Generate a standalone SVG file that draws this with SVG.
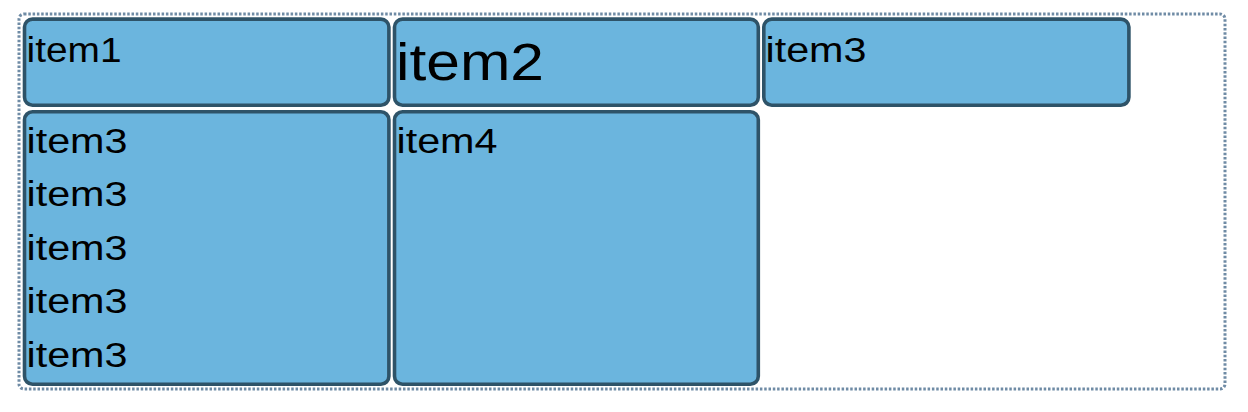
<svg xmlns="http://www.w3.org/2000/svg" width="1248" height="412" viewBox="0 0 1248 412">
<style>
.box{fill:#6bb5de;stroke:#2e5368;stroke-width:3.6}
.t{font-family:"Liberation Sans",Arial,sans-serif;font-size:34.5px;fill:#000}
.big{font-size:51px}
.outer{fill:none;stroke:#6f8ba5;stroke-width:3;stroke-dasharray:2.5 1.8}
</style>
<rect width="1248" height="412" fill="#fff"/>
<rect class="outer" x="19" y="14" width="1206" height="375" rx="5"/>
<g id="item1">
<rect class="box" x="24.5" y="19.1" width="364.4" height="86.1" rx="8"/>
<text class="t" x="26.5" y="62.3" textLength="95" lengthAdjust="spacingAndGlyphs">item1</text>
</g>
<g id="item2">
<rect class="box" x="394.5" y="19.1" width="363.8" height="86.1" rx="8"/>
<text class="t big" x="396" y="80" textLength="148" lengthAdjust="spacingAndGlyphs">item2</text>
</g>
<g id="item3a">
<rect class="box" x="763.8" y="19.1" width="365.1" height="86.1" rx="8"/>
<text class="t" x="765.5" y="62" textLength="101" lengthAdjust="spacingAndGlyphs">item3</text>
</g>
<g id="item3b">
<rect class="box" x="24.5" y="111.8" width="364.4" height="272.4" rx="8"/>
<text class="t" x="26.5" y="152.7" textLength="101" lengthAdjust="spacingAndGlyphs">item3</text>
<text class="t" x="26.5" y="206.2" textLength="101" lengthAdjust="spacingAndGlyphs">item3</text>
<text class="t" x="26.5" y="259.7" textLength="101" lengthAdjust="spacingAndGlyphs">item3</text>
<text class="t" x="26.5" y="313.2" textLength="101" lengthAdjust="spacingAndGlyphs">item3</text>
<text class="t" x="26.5" y="366.7" textLength="101" lengthAdjust="spacingAndGlyphs">item3</text>
</g>
<g id="item4">
<rect class="box" x="394.5" y="111.8" width="363.8" height="272.4" rx="8"/>
<text class="t" x="396.5" y="152.7" textLength="101" lengthAdjust="spacingAndGlyphs">item4</text>
</g>
<g id="connectors"></g>
</svg>
